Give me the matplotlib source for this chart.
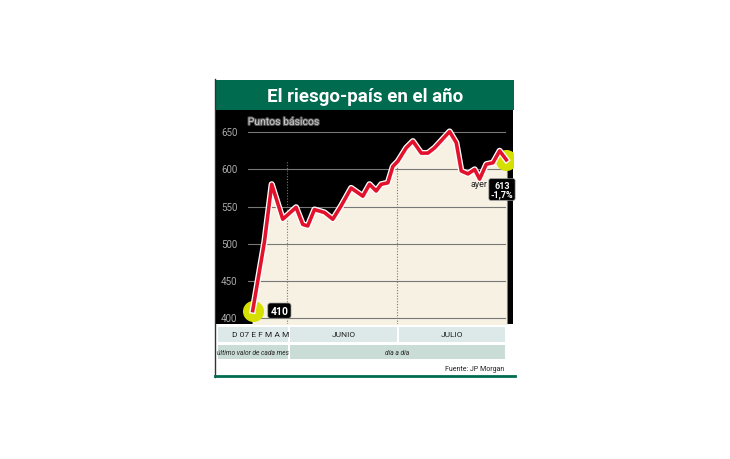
import matplotlib
matplotlib.use("Agg")
import matplotlib.pyplot as plt
import matplotlib.patheffects as pe
from matplotlib.patches import Rectangle

xs = [115,150,172,205,245,265,280,300,330,355,380,410,445,465,485,500,520,535,550,575,595,620,640,660,705,725,740,760,780,795,815,835,855,875]
vals = [410,502,580,533,549,526,524,546,542,533,551,575,564,580,571,580,582,604,611,629,638,622,622,629,651,636,598,594,600,587,607,609,625,613]
yticks = [400,450,500,550,600,650]
sep_x = [218, 548]

W, H = 730, 460
fig = plt.figure(figsize=(W/100, H/100), dpi=100)
fig.patch.set_facecolor("white")
plt.rcParams['font.family'] = ['Roboto', 'DejaVu Sans']

def fx(px): return px / W
def fy(py): return 1 - py / H

green = "#006b4f"
bg = fig.add_axes([0, 0, 1, 1]); bg.set_xlim(0, W); bg.set_ylim(H, 0); bg.axis("off")
bg.add_patch(Rectangle((216, 81), 298, 30, facecolor=green, edgecolor="none"))
bg.text(365, 97, "El riesgo-país en el año", color="white", fontsize=13.5, fontweight="bold",
        ha="center", va="center")
bg.plot([215, 215], [80, 378], color="#333", lw=1)
bg.plot([215, 515], [377, 377], color=green, lw=2)
rc1 = "#dde8e8"; rc2 = "#c9ddd6"
for a, b, t in [(218, 288, "D 07 E F M A M"), (290, 397, "JUNIO"), (399, 505, "JULIO")]:
    bg.add_patch(Rectangle((a, 328), b-a, 15, facecolor=rc1, edgecolor="none"))
    bg.text((a+b)/2 + (8 if a == 218 else 0), 335.5, t, fontsize=6, ha="center", va="center", color="#222")
for a, b, t in [(218, 288, "último valor de cada mes"), (290, 505, "día a día")]:
    bg.add_patch(Rectangle((a, 346), b-a, 14, facecolor=rc2, edgecolor="none"))
    bg.text((a+b)/2, 353, t, fontsize=4.8, ha="center", va="center", style="italic", color="#222")
bg.text(504, 370, "Fuente: JP Morgan", fontsize=5, ha="right", va="center", color="#222")

ax = fig.add_axes([fx(216), fy(325), fx(513-216), (325-111)/H])
ax.set_facecolor("black")
ax.set_xlim(5, 895)
ax.set_ylim(392, 680)
for s in ax.spines.values(): s.set_visible(False)
ax.set_xticks([]); ax.set_yticks([])
ax.fill_between(xs, vals, 392, color="#f6f1e2", zorder=1)
for v in yticks:
    ax.plot([100, 870], [v, v], color="#777", lw=0.8, zorder=2)
    ax.text(45, v, str(v), color="#aaa", fontsize=7, ha="center", va="center")
for sx in sep_x:
    ax.plot([sx, sx], [392, 612], color="#777", lw=0.8, ls=(0, (1, 1.5)), zorder=2)
ax.text(100, 664, "Puntos básicos", color="#ccc", fontsize=7.5, ha="left", va="center",
        path_effects=[pe.withStroke(linewidth=1.5, foreground="#555")])
ax.plot(xs, vals, color="#e3122c", lw=2.6, zorder=4, solid_joinstyle="round",
        path_effects=[pe.Stroke(linewidth=4.5, foreground="white", joinstyle="round"), pe.Normal()])
ax.scatter([xs[0], xs[-1]], [vals[0], vals[-1]], s=200, color="#d6e000", zorder=3)
ax.text(195, 410, "410", color="white", fontsize=7.5, fontweight="bold", ha="center", va="center", zorder=5,
        bbox=dict(boxstyle="round,pad=0.25", fc="black", ec="#999", lw=0.5))
ax.text(818, 581, "ayer", color="#222", fontsize=6.5, ha="right", va="center", zorder=5)
ax.text(862, 573, "613\n-1,7%", color="white", fontsize=6.5, fontweight="bold", ha="center", va="center",
        zorder=5, linespacing=1.0, bbox=dict(boxstyle="round,pad=0.2", fc="black", ec="#999", lw=0.5))

fig.savefig("out.png", dpi=100)
